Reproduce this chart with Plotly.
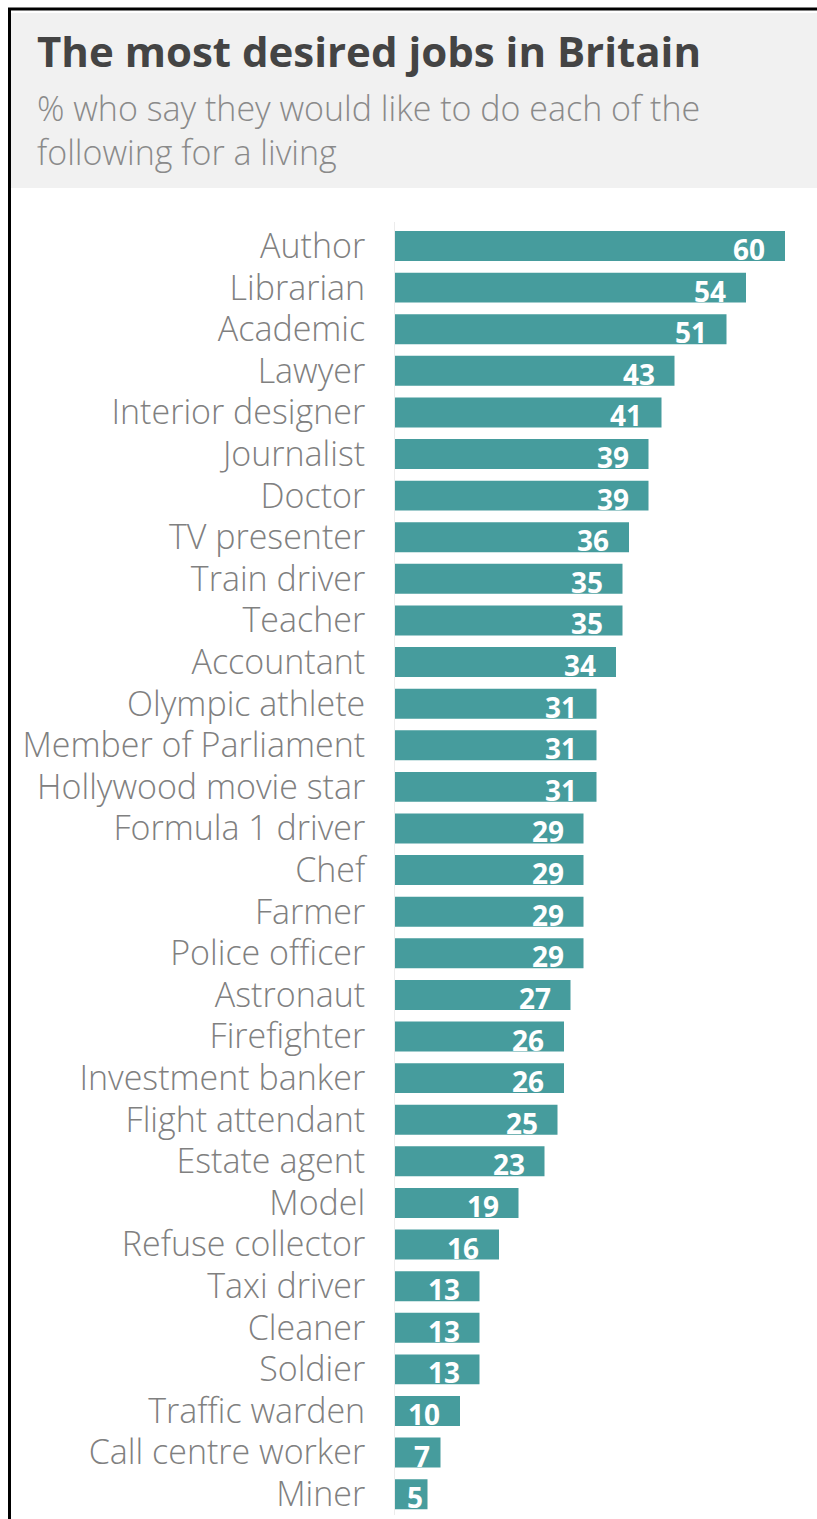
import plotly.graph_objects as go

jobs = ["Author", "Librarian", "Academic", "Lawyer", "Interior designer", "Journalist",
        "Doctor", "TV presenter", "Train driver", "Teacher", "Accountant", "Olympic athlete",
        "Member of Parliament", "Hollywood movie star", "Formula 1 driver", "Chef", "Farmer",
        "Police officer", "Astronaut", "Firefighter", "Investment banker", "Flight attendant",
        "Estate agent", "Model", "Refuse collector", "Taxi driver", "Cleaner", "Soldier",
        "Traffic warden", "Call centre worker", "Miner"]
values = [60, 54, 51, 43, 41, 39, 39, 36, 35, 35, 34, 31, 31, 31, 29, 29, 29, 29, 27, 26,
          26, 25, 23, 19, 16, 13, 13, 13, 10, 7, 5]

title = "The most desired jobs in Britain"
subtitle_lines = ["% who say they would like to do each of the", "following for a living"]

W, H = 817, 1519
L, R, T, B = 395, 0, 222, 4
BAR = "#469c9d"

fig = go.Figure(go.Bar(
    x=values, y=jobs, orientation="h",
    marker=dict(color=BAR, line=dict(width=0)),
    width=0.72, hoverinfo="x+y",
))

for j, v in zip(jobs, values):
    if v >= 10:
        fig.add_annotation(x=v, y=j, xref="x", yref="y", text=str(v), showarrow=False,
                           xanchor="right", xshift=-18, yshift=-3,
                           font=dict(family="Open Sans", size=28, color="white", weight="bold"))
    else:
        fig.add_annotation(x=v / 2, y=j, xref="x", yref="y", text=str(v), showarrow=False,
                           xanchor="center", xshift=4, yshift=-3,
                           font=dict(family="Open Sans", size=28, color="white", weight="bold"))

PW, PH = W - L - R, H - T - B

def px(p):
    return (p - L) / PW

def py(p):
    return (H - B - p) / PH

shapes = [
    dict(type="rect", xref="paper", yref="paper", x0=px(11), x1=px(W), y0=py(188), y1=py(13),
         fillcolor="#f1f1f1", line=dict(width=0), layer="below"),
    dict(type="line", xref="paper", yref="paper", x0=px(8), x1=px(W), y0=py(9), y1=py(9),
         line=dict(color="black", width=3)),
    dict(type="line", xref="paper", yref="paper", x0=px(9.5), x1=px(9.5), y0=py(H), y1=py(8),
         line=dict(color="black", width=3)),
]

annotations = [
    dict(text=title, x=px(35), y=py(50), xref="paper", yref="paper", xanchor="left",
         yanchor="middle", showarrow=False,
         font=dict(family="Open Sans", size=42, color="#444444", weight="bold")),
    dict(text="<br>".join(subtitle_lines), x=px(35), y=py(130), xref="paper", yref="paper",
         xanchor="left", yanchor="middle", align="left", showarrow=False,
         font=dict(family="Open Sans", size=34, color="#8a8a8a", weight=300)),
]
for a in annotations:
    fig.add_annotation(**a)

fig.update_layout(
    width=W, height=H,
    margin=dict(l=L, r=R, t=T, b=B),
    paper_bgcolor="white", plot_bgcolor="white",
    showlegend=False,
    shapes=shapes,
    xaxis=dict(range=[0, PW / 6.5], visible=False, fixedrange=True),
    yaxis=dict(autorange="reversed", showgrid=False, zeroline=False,
               showline=True, linecolor="#ececec", linewidth=1,
               ticks="", ticklabelstandoff=22,
               tickfont=dict(family="Open Sans", size=34, color="#808080", weight=300),
               fixedrange=True),
)

fig.write_html("out.html", config={"displayModeBar": False},
               post_script="document.body.style.margin='0';")
